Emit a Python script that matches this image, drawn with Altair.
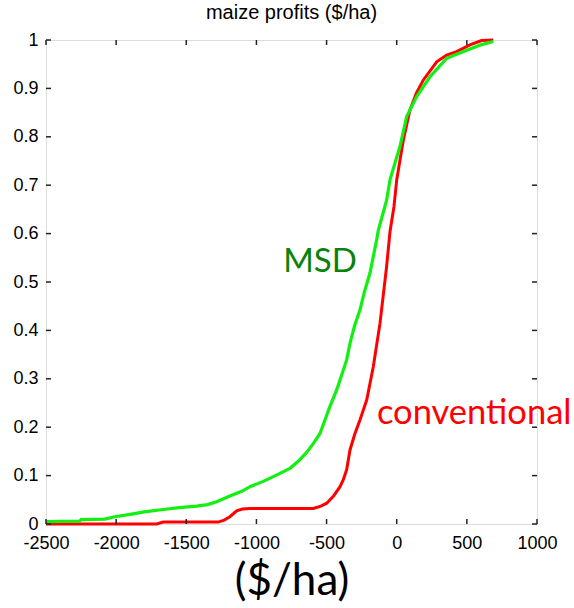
import altair as alt
import pandas as pd

# Empirical CDFs of maize profits ($/ha)
msd_profit = [-2500, -2260, -2250, -2080, -2010, -1900, -1800, -1664, -1550, -1426,
              -1350, -1283, -1189, -1100, -1046, -951, -850, -761, -700, -642,
              -590, -547, -524, -480, -428, -390, -357, -333, -300, -262,
              -230, -191, -143, -131, -72, -48, 23, 71, 142, 237,
              356, 499, 600, 688]
msd_cdf = [0.005, 0.006, 0.009, 0.010, 0.015, 0.020, 0.025, 0.030, 0.034, 0.037,
           0.040, 0.046, 0.058, 0.068, 0.077, 0.088, 0.102, 0.115, 0.130, 0.148,
           0.168, 0.187, 0.205, 0.240, 0.277, 0.310, 0.339, 0.373, 0.410, 0.442,
           0.480, 0.518, 0.587, 0.607, 0.669, 0.711, 0.780, 0.842, 0.883, 0.924,
           0.962, 0.979, 0.990, 0.997]

conv_profit = [-2500, -1711, -1664, -1272, -1230, -1189, -1141, -1100, -1046, -595,
               -540, -499, -450, -404, -380, -357, -333, -300, -262, -214,
               -167, -119, -72, -48, -20, 0, 47, 94, 140, 189,
               285, 356, 427, 522, 605, 688]
conv_cdf = [0.0, 0.0, 0.004, 0.004, 0.008, 0.015, 0.027, 0.031, 0.032, 0.032,
            0.037, 0.043, 0.058, 0.077, 0.092, 0.112, 0.153, 0.185, 0.215, 0.256,
            0.325, 0.415, 0.532, 0.604, 0.655, 0.711, 0.793, 0.855, 0.890, 0.917,
            0.955, 0.969, 0.976, 0.990, 0.999, 1.0]

x_ticks = [-2500, -2000, -1500, -1000, -500, 0, 500, 1000]
y_ticks = [0, 0.1, 0.2, 0.3, 0.4, 0.5, 0.6, 0.7, 0.8, 0.9, 1.0]

series_labels = ["MSD", "conventional"]
label_x = [-547, -141]
label_y = [0.541, 0.227]

W, H = 491, 484

msd = pd.DataFrame({"profit": msd_profit, "cdf": msd_cdf})
conv = pd.DataFrame({"profit": conv_profit, "cdf": conv_cdf})
xt = pd.DataFrame({"v": x_ticks})
yt = pd.DataFrame({"v": y_ticks})

x_scale = alt.Scale(domain=[-2500, 1000], nice=False, zero=False)
y_scale = alt.Scale(domain=[0, 1], nice=False)

x_enc = alt.X(
    "profit:Q", scale=x_scale, title="($/ha)",
    axis=alt.Axis(values=x_ticks, labelExpr="toString(datum.value)", grid=False,
                  domain=False, ticks=False, labelPadding=10, labelFlush=False,
                  labelOverlap=False,
                  labelFont="Liberation Sans", labelFontSize=18, labelColor="black",
                  titleFont="Lato", titleFontSize=44, titleFontWeight="normal",
                  titleColor="black", titlePadding=7),
)
y_enc = alt.Y(
    "cdf:Q", scale=y_scale, title=None,
    axis=alt.Axis(values=y_ticks, format=".1~f", grid=False, domain=False, ticks=False,
                  labelPadding=8, labelFlush=False, labelOverlap=False,
                  labelFont="Liberation Sans", labelFontSize=18, labelColor="black"),
)

conv_line = alt.Chart(conv).mark_line(color="#ff0000", strokeWidth=3).encode(
    x=x_enc, y=y_enc, order="profit:Q"
)
msd_line = alt.Chart(msd).mark_line(color="#11f011", strokeWidth=3.2).encode(
    x="profit:Q", y="cdf:Q", order="profit:Q"
)

# inward tick marks on all four sides of the box
tick_col = "#222222"
xb = alt.Chart(xt).mark_rule(color=tick_col, strokeWidth=1.5).encode(
    x=alt.X("v:Q", scale=x_scale), y=alt.value(H), y2=alt.value(H - 5))
xtop = alt.Chart(xt).mark_rule(color=tick_col, strokeWidth=1.5).encode(
    x=alt.X("v:Q", scale=x_scale), y=alt.value(0), y2=alt.value(5))
yl = alt.Chart(yt).mark_rule(color=tick_col, strokeWidth=1.5).encode(
    y=alt.Y("v:Q", scale=y_scale), x=alt.value(0), x2=alt.value(5))
yr = alt.Chart(yt).mark_rule(color=tick_col, strokeWidth=1.5).encode(
    y=alt.Y("v:Q", scale=y_scale), x=alt.value(W), x2=alt.value(W - 5))

lab = pd.DataFrame({"text": series_labels, "profit": label_x, "cdf": label_y})
msd_text = alt.Chart(lab.iloc[[0]]).mark_text(
    font="Lato", fontSize=33, color="#0a820a", align="center", baseline="middle"
).encode(x="profit:Q", y="cdf:Q", text="text:N")
conv_text = alt.Chart(lab.iloc[[1]]).mark_text(
    font="Lato", fontSize=34.5, color="#ff0000", align="left", baseline="middle"
).encode(x="profit:Q", y="cdf:Q", text="text:N")

chart = alt.layer(
    conv_line, msd_line, xb, xtop, yl, yr, msd_text, conv_text
).properties(
    width=W, height=H,
    title=alt.TitleParams("maize profits ($/ha)", font="Liberation Sans", fontSize=20,
                          fontWeight="normal", color="black", anchor="middle", offset=8),
    autosize=alt.AutoSizeParams(type="none"),
    padding={"left": 46, "top": 40, "right": 37, "bottom": 84},
).configure_view(stroke="black", strokeWidth=1.5).configure(background="white")

chart.save("out.html", embed_options={"renderer": "svg", "actions": False})
